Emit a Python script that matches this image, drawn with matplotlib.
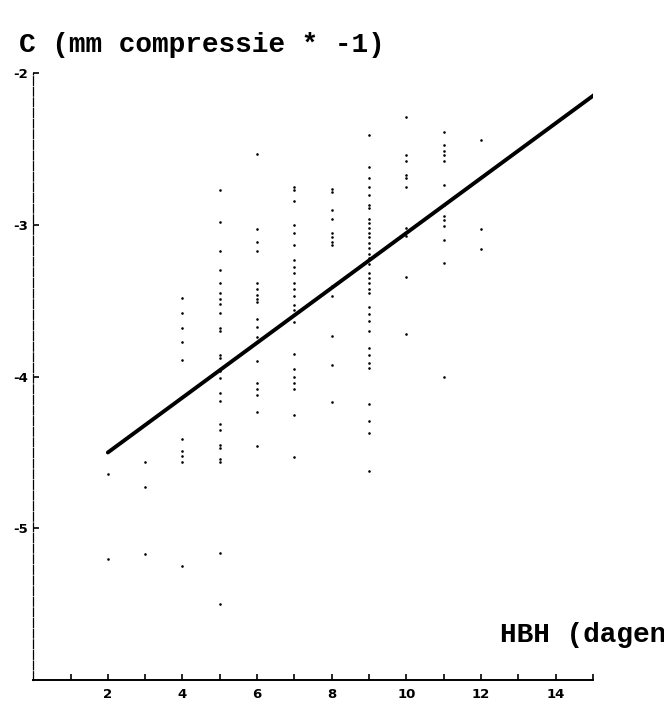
import matplotlib
matplotlib.use("Agg")
import matplotlib.pyplot as plt

# compression values (mm * -1) per day of HBH
hbh_days = [2, 3, 4, 5, 6, 7, 8, 9, 10, 11, 12]
compression = [
    [-4.64, -5.20],
    [-4.56, -4.73, -5.17],
    [-3.48, -3.58, -3.68, -3.77, -3.89, -4.41, -4.49, -4.52, -4.56, -5.25],
    [-2.77, -2.98, -3.17, -3.30, -3.38, -3.45, -3.49, -3.52, -3.58, -3.68,
     -3.70, -3.86, -3.88, -3.96, -4.01, -4.11, -4.16, -4.31, -4.35, -4.45,
     -4.47, -4.54, -4.56, -5.16, -5.50],
    [-2.53, -3.03, -3.11, -3.17, -3.38, -3.42, -3.46, -3.49, -3.51, -3.62,
     -3.67, -3.74, -3.90, -4.04, -4.08, -4.12, -4.23, -4.46],
    [-2.75, -2.77, -2.84, -3.00, -3.05, -3.13, -3.23, -3.28, -3.32, -3.38,
     -3.42, -3.47, -3.53, -3.56, -3.64, -3.85, -3.95, -4.00, -4.04, -4.08,
     -4.25, -4.53],
    [-2.76, -2.78, -2.90, -2.96, -3.05, -3.08, -3.11, -3.13, -3.40, -3.47,
     -3.73, -3.92, -4.17],
    [-2.41, -2.62, -2.69, -2.75, -2.80, -2.87, -2.89, -2.96, -2.99, -3.02,
     -3.05, -3.08, -3.12, -3.15, -3.19, -3.22, -3.26, -3.32, -3.35, -3.38,
     -3.42, -3.45, -3.54, -3.59, -3.63, -3.70, -3.81, -3.86, -3.91, -3.94,
     -4.18, -4.29, -4.37, -4.62],
    [-2.29, -2.54, -2.58, -2.67, -2.69, -2.75, -3.02, -3.07, -3.34, -3.72],
    [-2.39, -2.47, -2.51, -2.54, -2.58, -2.74, -2.87, -2.94, -2.97, -3.01,
     -3.10, -3.25, -4.00],
    [-2.44, -3.03, -3.16],
]

# fitted regression line endpoints
fit_x = [2.0, 15.05]
fit_y = [-4.50, -2.14]

x_ticks = list(range(1, 16))
x_labels = [str(t) if t % 2 == 0 and t < 15 else "" for t in x_ticks]
y_ticks = [-2, -3, -4, -5]
y_labels = ["-2", "-3", "-4", "-5"]

xs, ys = [], []
for day, vals in zip(hbh_days, compression):
    xs.extend([day] * len(vals))
    ys.extend(vals)

fig = plt.figure(figsize=(6.64, 7.04), dpi=100)
ax = fig.add_axes([0.05, 0.034, 0.843, 0.862])

ax.scatter(xs, ys, s=3.5, color="black", linewidths=0, zorder=3)
ax.plot(fit_x, fit_y, color="black", linewidth=2.8, solid_capstyle="round", zorder=4)

ax.set_xlim(0, 15)
ax.set_ylim(-6, -2)

ax.spines["top"].set_visible(False)
ax.spines["right"].set_visible(False)
ax.spines["left"].set_linewidth(0.9)
ax.spines["left"].set_linestyle((0, (7, 1.5)))
ax.spines["bottom"].set_linewidth(1.4)

tick_font = {"family": ["Liberation Sans Narrow", "DejaVu Sans"], "weight": "bold", "size": 9.5}
ax.set_xticks(x_ticks)
ax.set_xticklabels(x_labels, fontdict=tick_font)
ax.set_yticks(y_ticks)
ax.set_yticklabels(y_labels, fontdict=tick_font)
ax.tick_params(axis="x", direction="in", length=4, width=1.2, pad=6)
ax.tick_params(axis="y", direction="in", length=4, width=1.2, pad=4)

mono = ["Liberation Mono", "DejaVu Sans Mono"]
fig.text(0.028, 0.926, "C (mm compressie * -1)", family=mono, fontsize=20,
         fontweight="bold", ha="left", va="baseline")
fig.text(0.753, 0.088, "HBH (dagen)", family=mono, fontsize=20,
         fontweight="bold", ha="left", va="baseline")

fig.savefig("out.png", dpi=100)
